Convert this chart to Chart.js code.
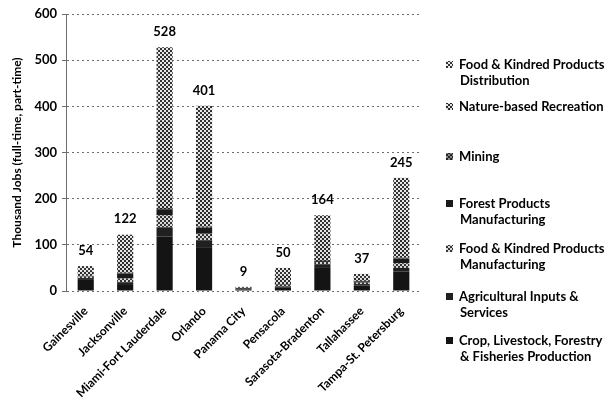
<!DOCTYPE html>
<html>
<head>
<meta charset="utf-8">
<script src="https://cdn.jsdelivr.net/npm/chart.js@4"></script>
<style>
  body { margin: 0; background: #fff; }
  #wrap { width: 612px; height: 405px; position: relative; }
</style>
</head>
<body>
<div id="wrap"><canvas id="chart"></canvas></div>
<script>
// data (thousand jobs)
const categories = ["Gainesville", "Jacksonville", "Miami-Fort Lauderdale", "Orlando", "Panama City",
  "Pensacola", "Sarasota-Bradenton", "Tallahassee", "Tampa-St. Petersburg"];
const cropLivestock = [24, 15, 118, 95, 3, 7, 50, 12, 42];
const agInputs = [4, 4, 20, 15, 1, 3, 8, 3, 8];
const foodMfg = [3, 8, 26, 14, 0, 3, 5, 3, 10];
const forestProducts = [1, 11, 13, 13, 2, 1, 2, 3, 10];
const mining = [1, 2, 3, 3, 0, 1, 2, 1, 3];
const natureRecreation = [12, 45, 190, 150, 2, 20, 55, 8, 95];
const foodDistribution = [9, 37, 158, 111, 1, 15, 42, 7, 77];
const totals = [54, 122, 528, 401, 9, 50, 164, 37, 245];
const yTicks = [0, 100, 200, 300, 400, 500, 600];

const FONT = "Lato, 'Open Sans', sans-serif";

// fill patterns to mimic the scanned hatching
function checker(fg, bg, cell) {
  const c = document.createElement("canvas");
  c.width = c.height = cell * 2;
  const g = c.getContext("2d");
  g.fillStyle = bg;
  g.fillRect(0, 0, cell * 2, cell * 2);
  g.fillStyle = fg;
  g.fillRect(0, 0, cell, cell);
  g.fillRect(cell, cell, cell, cell);
  return g.createPattern(c, "repeat");
}

const ctx = document.querySelector("#chart").getContext("2d");

const series = [
  { label: ["Crop, Livestock, Forestry", "& Fisheries Production"], data: cropLivestock, fill: "#141414" },
  { label: ["Agricultural Inputs &", "Services"], data: agInputs, fill: "#202020" },
  { label: ["Food & Kindred Products", "Manufacturing"], data: foodMfg, fill: checker("#333", "#d8d8d8", 2) },
  { label: ["Forest Products", "Manufacturing"], data: forestProducts, fill: "#1a1a1a" },
  { label: ["Mining"], data: mining, fill: checker("#222", "#888", 2) },
  { label: ["Nature-based Recreation"], data: natureRecreation, fill: checker("#2a2a2a", "#e0e0e0", 2) },
  { label: ["Food & Kindred Products", "Distribution"], data: foodDistribution, fill: checker("#333", "#e8e8e8", 2) },
];

// legend rows, top to bottom (y of first line)
const legendY = [65, 107, 157, 204, 249, 297, 341];

const totalLabels = {
  id: "totalLabels",
  afterDatasetsDraw(chart) {
    const c = chart.ctx;
    const y = chart.scales.y;
    const meta = chart.getDatasetMeta(0);
    c.save();
    c.font = "bold 13px " + FONT;
    c.fillStyle = "#000";
    c.textAlign = "center";
    c.textBaseline = "bottom";
    totals.forEach((t, i) => {
      c.fillText(String(t), meta.data[i].x, y.getPixelForValue(t) - 9);
    });
    c.restore();
  },
};

const sideLegend = {
  id: "sideLegend",
  afterDraw(chart) {
    const c = chart.ctx;
    c.save();
    c.font = "bold 13px " + FONT;
    c.textBaseline = "middle";
    const rows = series.slice().reverse();
    rows.forEach((s, i) => {
      const y0 = legendY[i];
      c.fillStyle = s.fill;
      c.fillRect(446, y0 - 4, 7, 7);
      c.fillStyle = "#000";
      s.label.forEach((line, j) => {
        c.fillText(line, j === 0 ? 459 : 460, y0 + j * 16);
      });
    });
    c.restore();
  },
};

new Chart(ctx, {
  type: "bar",
  data: {
    labels: categories,
    datasets: series.map((s) => ({
      label: s.label.join(" "),
      data: s.data,
      backgroundColor: s.fill,
      borderWidth: 0,
      barPercentage: 0.41,
      categoryPercentage: 1,
    })),
  },
  options: {
    responsive: true,
    maintainAspectRatio: false,
    animation: false,
    layout: { padding: { left: 10, right: 191, top: 14, bottom: 0 } },
    plugins: {
      legend: { display: false },
      tooltip: { enabled: false },
    },
    scales: {
      x: {
        stacked: true,
        grid: { display: false },
        border: { display: false },
        ticks: {
          color: "#000",
          font: { family: FONT, size: 12, weight: "bold" },
          maxRotation: 45,
          minRotation: 45,
          autoSkip: false,
          padding: 5,
        },
        afterFit(scale) { scale.height = 114; },
      },
      y: {
        stacked: true,
        min: 0,
        max: 600,
        afterBuildTicks(scale) { scale.ticks = yTicks.map((v) => ({ value: v })); },
        grid: { color: "#6e6e6e", tickLength: 4 },
        border: { display: true, color: "#6e6e6e", dash: [2, 3] },
        ticks: {
          color: "#000",
          font: { family: FONT, size: 13, weight: "bold" },
          padding: 5,
        },
        title: {
          display: true,
          text: "Thousand Jobs (full-time, part-time)",
          color: "#000",
          font: { family: FONT, size: 12, weight: "bold" },
          padding: { top: 0, bottom: 2 },
        },
        afterFit(scale) { scale.width = 56; },
      },
    },
  },
  plugins: [totalLabels, sideLegend],
});
</script>
</body>
</html>
